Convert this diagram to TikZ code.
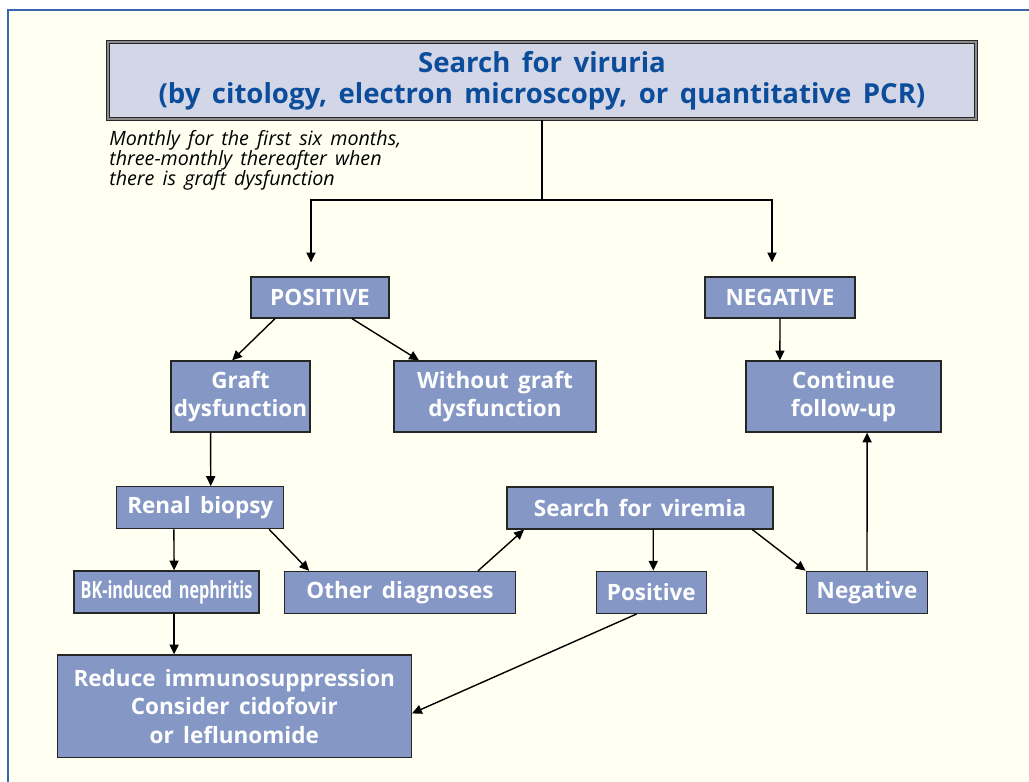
\documentclass[tikz,border=0pt]{standalone}
\usepackage{fontspec}
\setmainfont{Open Sans}[WordSpace=1.6]
\usetikzlibrary{arrows.meta}

\definecolor{paper}{HTML}{FFFFF2}
\definecolor{frameblue}{HTML}{3A66AD}
\definecolor{boxfill}{HTML}{8497C5}
\definecolor{titlefill}{HTML}{D3D6E6}
\definecolor{titleblue}{HTML}{0B4C9B}

\tikzset{
    box/.style={draw=black!85, line width=0.9pt, fill=boxfill, text=white, align=center,
                inner sep=0pt, font=\fontsize{16}{20.3}\selectfont\bfseries},
    titlebox/.style={draw=black!85, line width=0.7pt, double=black!45, double distance=1.2pt,
                fill=titlefill, text=titleblue, align=center, inner sep=0pt,
                font=\fontsize{19.6}{22}\selectfont\bfseries},
    flow/.style={-{Triangle[length=7pt,width=6.5pt]}, line width=1pt},
}

\begin{document}
\begin{tikzpicture}[x=0.025cm, y=-0.025cm]

    \clip (0,0) rectangle (1029,781);
    \useasboundingbox (0,0) rectangle (1029,781);
    \fill[white] (0,0) rectangle (1029,781);
    \draw[frameblue, fill=paper, line width=0.8pt] (8,10) rectangle (1040,790);

    % top of the chart
    \node (viruria) [titlebox, minimum width=21.7cm, minimum height=1.925cm] at (542,80.5)
        {Search for viruria\\(by citology, electron microscopy, or quantitative PCR)};
    \node (note) [anchor=north west, inner sep=0pt, align=left,
                  font=\fontsize{14}{14.3}\selectfont\itshape] at (109,130)
        {Monthly for the first six months,\\three-monthly thereafter when\\there is graft dysfunction};
    \coordinate (split) at (542,200);

    \node (positive) [box, minimum width=3.45cm, minimum height=1.025cm] at (320,297.5) {POSITIVE};
    \node (negative) [box, minimum width=3.75cm, minimum height=1.025cm] at (780,297.5) {NEGATIVE};

    \node (graft)    [box, minimum width=3.475cm, minimum height=1.775cm] at (240.5,396.5) {Graft\\dysfunction};
    \node (nograft)  [box, minimum width=5.05cm,  minimum height=1.775cm] at (495,396.5)   {Without graft\\dysfunction};
    \node (followup) [box, minimum width=4.875cm, minimum height=1.775cm] at (843.5,396.5) {Continue\\follow-up};

    \node (biopsy)  [box, minimum width=4.175cm, minimum height=1.05cm] at (200.3,507.7) {Renal biopsy};
    \node (viremia) [box, minimum width=6.65cm,  minimum height=1.05cm] at (640,508)     {Search for viremia};

    \node (bknephritis) [box, minimum width=4.625cm, minimum height=1.05cm] at (166.5,592)
        {\scalebox{0.72}[1.05]{BK-induced nephritis}};
    \node (otherdiag) [box, minimum width=5.77cm, minimum height=1.05cm] at (400,592.5)   {Other diagnoses};
    \node (vpositive) [box, minimum width=2.75cm, minimum height=1.05cm] at (651.3,592.3) {Positive};
    \node (vnegative) [box, minimum width=3.04cm, minimum height=1.05cm] at (867,592.3)   {Negative};

    \node (reduce) [box, minimum width=8.85cm, minimum height=2.56cm] at (234.3,706.2)
        {Reduce immunosuppression\\Consider cidofovir\\or leflunomide};

    % connectors
    \draw[line width=1pt] (viruria.south) -- (split);
    \draw[flow] (split) -| ([xshift=-0.225cm,yshift=0.35cm]positive.north);
    \draw[flow] (split) -| ([xshift=-0.2cm,yshift=0.35cm]negative.north);

    \draw[flow] ([xshift=-1.125cm]positive.south) -- ([xshift=-0.21cm]graft.north);
    \draw[flow] ([xshift=0.8cm]positive.south)    -- ([xshift=-1.9cm]nograft.north);
    \draw[flow] (negative.south) -- ([xshift=-1.59cm]followup.north);

    \draw[flow] ([xshift=-0.745cm]graft.south) -- ([xshift=0.26cm]biopsy.north);
    \draw[flow] ([xshift=-0.66cm]biopsy.south) -- ([xshift=0.19cm]bknephritis.north);
    \draw[flow] ([xshift=1.72cm]biopsy.south)  -- ([xshift=-2.27cm]otherdiag.north);
    \draw[flow] ([xshift=1.95cm]otherdiag.north) -- ([xshift=-2.9cm]viremia.south);
    \draw[flow] ([xshift=0.33cm]viremia.south) -- ([xshift=0.05cm]vpositive.north);
    \draw[flow] ([xshift=2.81cm]viremia.south) -- (vnegative.north west);
    \draw[flow] (vnegative.north) -- ([xshift=0.59cm]followup.south);

    \draw[flow] ([xshift=0.19cm]bknephritis.south) -- ([xshift=0.19cm]bknephritis.south |- reduce.north);
    \draw[flow] ([xshift=-0.365cm]vpositive.south) -- ([yshift=-0.18cm]reduce.east);

\end{tikzpicture}
\end{document}
